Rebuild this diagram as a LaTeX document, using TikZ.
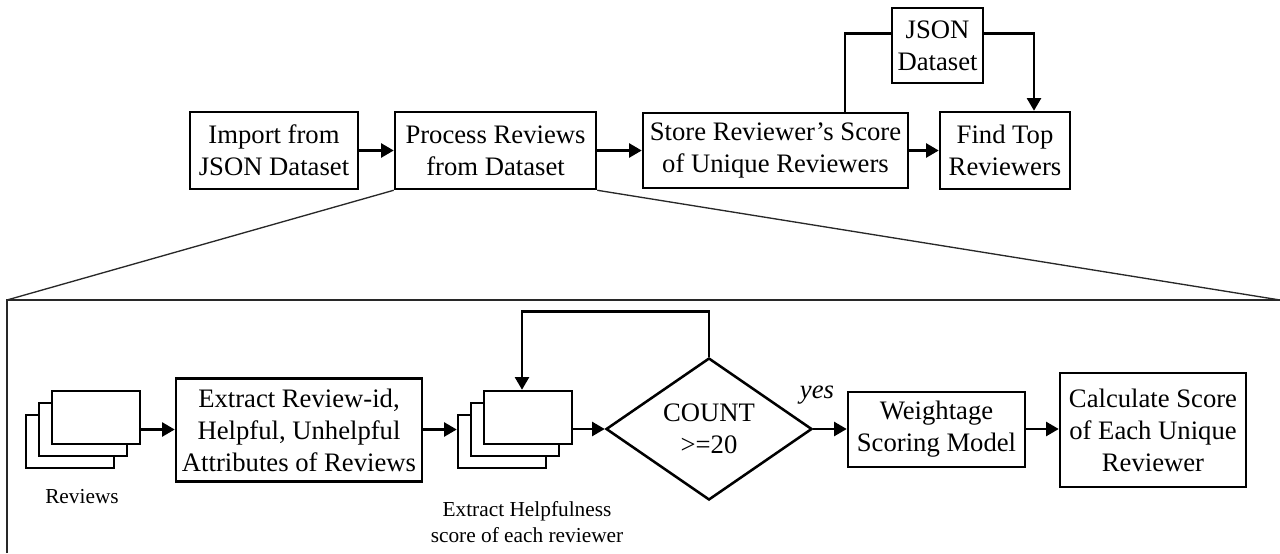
\documentclass[tikz,border=0pt]{standalone}
\usepackage{fontspec}
\setmainfont{Liberation Serif}
\usetikzlibrary{arrows.meta,shapes.geometric}

\tikzset{
  box/.style={draw,line width=1.9pt,fill=white,inner sep=0pt,align=center,font=\fontsize{20}{24}\selectfont},
  page/.style={draw,line width=1.9pt,fill=white,inner sep=0pt,minimum width=66pt,minimum height=39.75pt},
  arrow/.style={line width=1.9pt,-{Triangle[length=9.5pt,width=10.5pt]}},
  link/.style={line width=1.9pt},
  zoomline/.style={line width=1pt,color={rgb,255:red,40;green,40;blue,40}},
  note/.style={inner sep=0pt,align=center,font=\fontsize{16}{19}\selectfont}
}

\begin{document}
\begin{tikzpicture}[x=0.75pt,y=0.75pt,yscale=-1,xscale=1]
\useasboundingbox (0,0) rectangle (1280,553);

%Top row
\node [box,minimum width=126pt,minimum height=57.75pt] (imp) at (274,150.5) {Import from\\JSON Dataset};
\node [box,minimum width=150.75pt,minimum height=57.75pt] (proc) at (495.5,150.5) {Process Reviews\\from Dataset};
\node [box,minimum width=198.75pt,minimum height=56.25pt] (store) at (775.5,150.5) {Store Reviewer’s Score\\of Unique Reviewers};
\node [box,minimum width=97.5pt,minimum height=57.75pt] (find) at (1005,150.5) {Find Top\\Reviewers};
\node [box,minimum width=68.25pt,minimum height=56.25pt] (json) at (937.5,45.5) {JSON\\Dataset};

\draw [arrow] (imp) -- (proc);
\draw [arrow] (proc) -- (store);
\draw [arrow] (store) -- (find);
\draw [link] ([xshift=52pt]store.north) |- ([yshift=-9pt]json.west);
\draw [arrow] ([yshift=-9pt]json.east) -| ([xshift=21.75pt]find.north);

%Zoom frame
\coordinate (fTL) at (7,300);
\coordinate (fTR) at (1280,300);
\coordinate (fBL) at (7,553);
\draw [zoomline] (fBL) -- (fTL) -- (fTR);
\draw [zoomline] (proc.south west) -- (fTL);
\draw [zoomline] (proc.south east) -- (fTR);

%Reviews stack
\node [page] (rev3) at (70,441.5) {};
\node [page] (rev2) at (83,429.5) {};
\node [page] (rev1) at (96,417.5) {};
\node [note] (revlbl) at (82,497) {Reviews};

\node [box,minimum width=184.5pt,minimum height=77.25pt] (ext) at (299,430) {Extract Review-id,\\Helpful, Unhelpful\\Attributes of Reviews};

%Helpfulness stack
\node [page] (hs3) at (502,441.5) {};
\node [page] (hs2) at (515,429.5) {};
\node [page] (hs1) at (528,417.5) {};
\node [note] (hslbl) at (527,522) {Extract Helpfulness\\score of each reviewer};

\node [box,shape=diamond,minimum width=154.5pt,minimum height=106.5pt] (dec) at (709,429) {COUNT\\>=20};
\node [box,minimum width=132.75pt,minimum height=56.25pt] (wgt) at (936.5,429.5) {Weightage\\Scoring Model};
\node [box,minimum width=139.5pt,minimum height=85.5pt] (calc) at (1153,430) {Calculate Score\\of Each Unique\\Reviewer};

% Text Node
\node [font=\fontsize{20}{24}\selectfont\itshape,inner sep=0pt] (yes) at (817,395) {yes};

\draw [arrow] (rev1.east |- rev2) -- (ext.west |- rev2);
\draw [arrow] (ext.east |- hs2) -- (hs3.west |- hs2);
\draw [arrow] (hs1.east |- dec) -- (dec.west);
\draw [arrow] (dec.north) -- ++(0,-45) -| ([xshift=-4.5pt]hs1.north);
\draw [arrow] (dec.east) -- (wgt.west |- dec);
\draw [arrow] (wgt.east |- dec) -- (calc.west |- dec);

\end{tikzpicture}
\end{document}
